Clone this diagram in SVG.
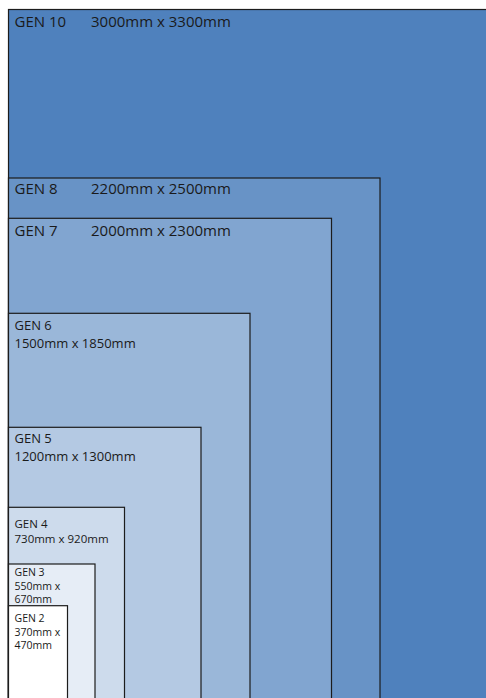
<svg xmlns="http://www.w3.org/2000/svg" width="486" height="698" viewBox="0 0 486 698">
<style>
.r{stroke:#1c1c1c;stroke-width:1.2}
text{font-family:"Open Sans","Noto Sans",sans-serif;fill:#1a1a1a}
.b{font-size:15px}
.m{font-size:13px}
.s{font-size:11.5px}
.t{font-size:10.5px}
</style>
<rect width="486" height="698" fill="#ffffff"/>
<g id="gen10"><rect class="r" x="8.5" y="9.5" width="490" height="700" fill="#4F81BD"/><text class="b" x="14.5" y="26.5">GEN 10</text><text class="b" x="91" y="26.5">3000mm x 3300mm</text></g>
<g id="gen8"><rect class="r" x="8.5" y="178" width="371.5" height="530" fill="#6893C6"/><text class="b" x="14.5" y="194">GEN 8</text><text class="b" x="91" y="194">2200mm x 2500mm</text></g>
<g id="gen7"><rect class="r" x="8.5" y="218.3" width="323" height="490" fill="#81A5D0"/><text class="b" x="14.5" y="236">GEN 7</text><text class="b" x="91" y="236">2000mm x 2300mm</text></g>
<g id="gen6"><rect class="r" x="8.5" y="313.3" width="241.5" height="400" fill="#9AB7D9"/><text class="m" x="14.5" y="329.5">GEN 6</text><text class="m" x="14.5" y="347.5">1500mm x 1850mm</text></g>
<g id="gen5"><rect class="r" x="8.5" y="427.3" width="192.5" height="300" fill="#B4C9E3"/><text class="m" x="14.5" y="443">GEN 5</text><text class="m" x="14.5" y="461">1200mm x 1300mm</text></g>
<g id="gen4"><rect class="r" x="8.5" y="507.3" width="116" height="200" fill="#CDDBEC"/><text class="s" x="14.5" y="528.3">GEN 4</text><text class="s" x="14.5" y="543.3">730mm x 920mm</text></g>
<g id="gen3"><rect class="r" x="8.5" y="564" width="86.5" height="150" fill="#E6EDF6"/><text class="t" x="14.5" y="575.5">GEN 3</text><text class="t" x="14.5" y="589.5">550mm x</text><text class="t" x="14.5" y="603">670mm</text></g>
<g id="gen2"><rect class="r" x="8.5" y="605.7" width="59" height="120" fill="#FFFFFF"/><text class="t" x="14.5" y="621.5">GEN 2</text><text class="t" x="14.5" y="635.5">370mm x</text><text class="t" x="14.5" y="649">470mm</text></g>
<g id="connectors"/>
</svg>
